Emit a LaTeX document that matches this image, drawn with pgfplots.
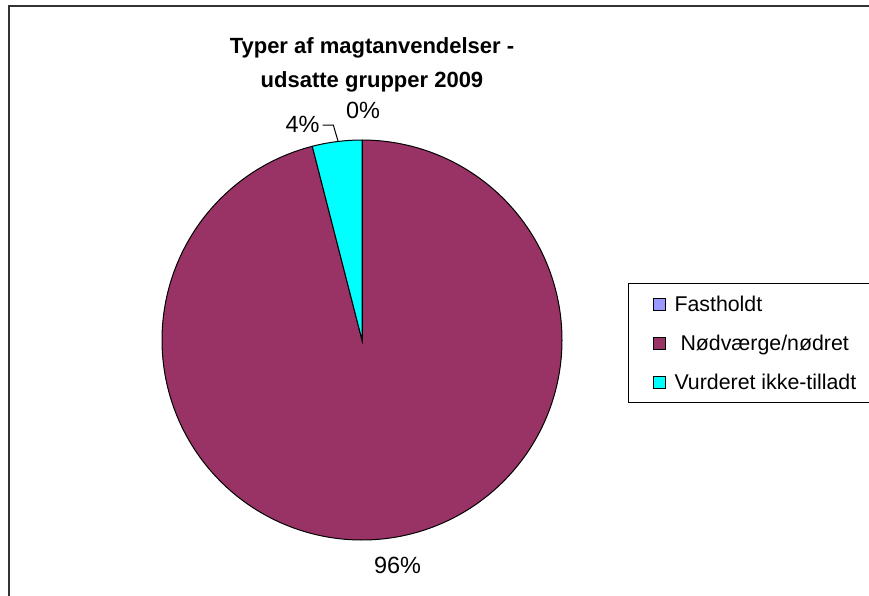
\documentclass[border=0pt]{standalone}
\usepackage{fontspec}
\setmainfont{Liberation Sans}
\usepackage{pgfplots}
\usepackage{pgfplotstable}
\pgfplotsset{compat=1.18}
\definecolor{fastc}{HTML}{9999FF}
\definecolor{nodc}{HTML}{993366}
\definecolor{vurdc}{HTML}{00FFFF}
\pgfplotstableread{
label value
Fastholdt 0
Nodvaerge 96
Vurderet 4
}\piedata
\pgfplotstablegetelem{0}{value}\of\piedata \let\vA\pgfplotsretval
\pgfplotstablegetelem{1}{value}\of\piedata \let\vB\pgfplotsretval
\pgfplotstablegetelem{2}{value}\of\piedata \let\vC\pgfplotsretval
\pgfmathsetmacro{\aA}{90-3.6*\vA}
\pgfmathsetmacro{\aB}{\aA-3.6*\vB}
\pgfmathsetmacro{\aC}{\aB-3.6*\vC}
\begin{document}
\begin{tikzpicture}[x=0.75bp,y=0.75bp]
\useasboundingbox (0,0) rectangle (869,-596);
\clip (0,0) rectangle (869,-596);
\draw[black!80, line width=1.2bp] (9,-6) rectangle (1000,-1000);
\node[anchor=base, font=\bfseries\fontsize{16.5bp}{20bp}\selectfont] at (372,-53) {Typer af magtanvendelser -};
\node[anchor=base, font=\bfseries\fontsize{16.5bp}{20bp}\selectfont] at (372,-87) {udsatte grupper 2009};
\begin{axis}[
  at={(271.5bp,-255bp)}, anchor=center,
  x=150bp, y=150bp,
  xmin=-1.2, xmax=1.2, ymin=-1.2, ymax=1.2,
  hide axis, clip=false,
  legend image code/.code={\draw[#1, draw=black, line width=0.75bp] (0bp,-4.5bp) rectangle (9bp,4.5bp);},
  legend cell align=left,
  legend style={
    at={(1.0542,0.61875)}, anchor=north west,
    draw=black, line width=0.75bp,
    inner xsep=18bp, inner ysep=9.6bp,
    row sep=17.65bp, column sep=6.75bp,
    font=\fontsize{16bp}{19bp}\selectfont,
    nodes={inner sep=0pt, text height=11.6bp, text depth=0pt},
  },
]
\addlegendimage{fill=fastc}
\addlegendentry{Fastholdt}
\addplot[fill=nodc, draw=black, line width=0.75bp, domain=\aB:\aA, samples=300, variable=\t]
  ({cos(\t)},{sin(\t)}) -- (axis cs:0,0) -- cycle;
\addlegendentry{\hspace*{4.5bp}Nødværge/nødret}
\addplot[fill=vurdc, draw=black, line width=0.75bp, domain=\aC:\aB, samples=30, variable=\t]
  ({cos(\t)},{sin(\t)}) -- (axis cs:0,0) -- cycle;
\addlegendentry{Vurderet ikke-tilladt}
\draw[black, line width=0.75bp] (axis cs:0,0) -- (axis cs:0,1);
\node[anchor=base, font=\fontsize{17.6bp}{21bp}\selectfont] at (axis cs:0.005,1.1085) {0\%};
\node[anchor=base, font=\fontsize{17.6bp}{21bp}\selectfont] at (axis cs:-0.2975,1.0375) {4\%};
\node[anchor=base, font=\fontsize{17.6bp}{21bp}\selectfont] at (axis cs:0.1775,-1.165) {96\%};
\draw[black, line width=0.75bp] (axis cs:-0.1965,1.075) -- (axis cs:-0.1435,1.075) -- (axis cs:-0.12,0.995);
\end{axis}
\end{tikzpicture}
\end{document}
